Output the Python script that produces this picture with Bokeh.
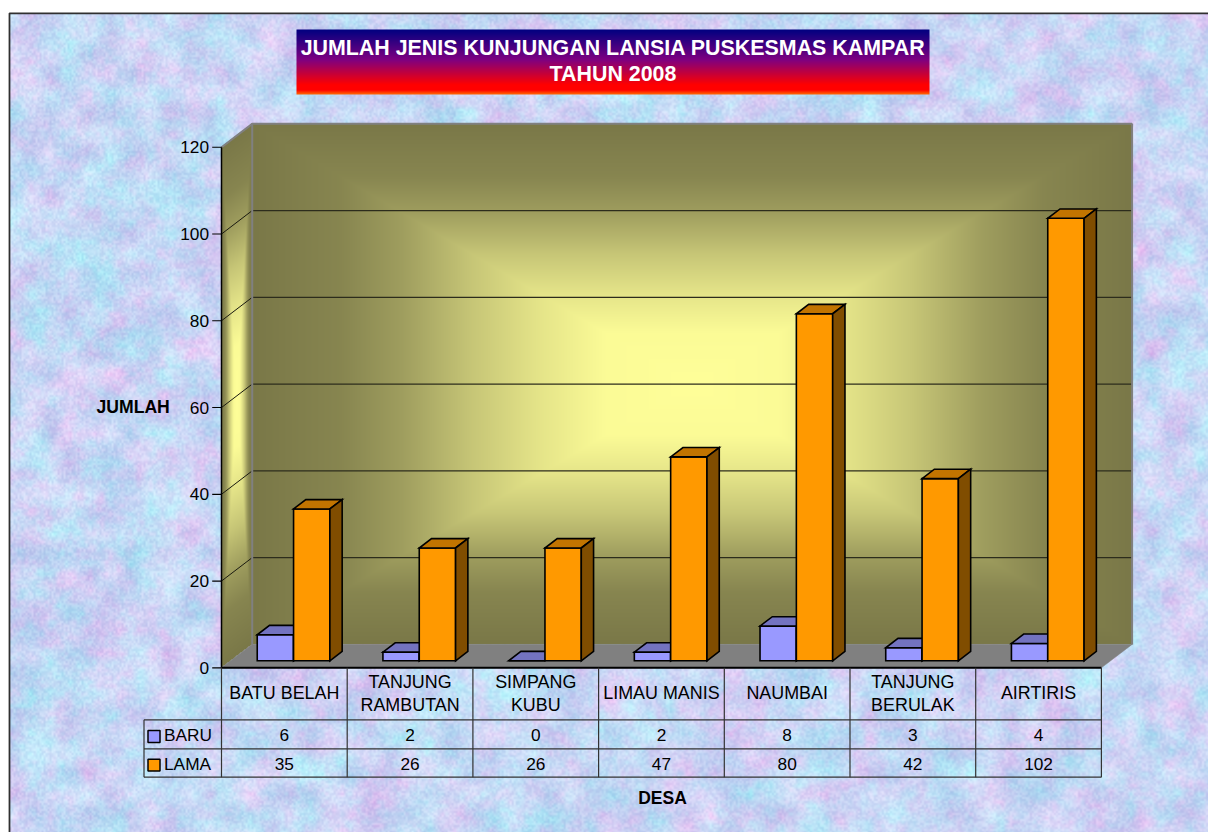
import numpy as np
from bokeh.core.properties import value
from bokeh.embed import file_html
from bokeh.models import Range1d
from bokeh.plotting import figure
from bokeh.resources import INLINE

# ---- chart content ----
TITLE_LINES = ["JUMLAH JENIS KUNJUNGAN LANSIA PUSKESMAS KAMPAR", "TAHUN 2008"]
CATEGORIES = [["BATU BELAH"], ["TANJUNG", "RAMBUTAN"], ["SIMPANG", "KUBU"], ["LIMAU MANIS"],
              ["NAUMBAI"], ["TANJUNG", "BERULAK"], ["AIRTIRIS"]]
BARU = [6, 2, 0, 2, 8, 3, 4]
LAMA = [35, 26, 26, 47, 80, 42, 102]
SERIES_NAMES = ["BARU", "LAMA"]
Y_TICKS = [0, 20, 40, 60, 80, 100, 120]
Y_LABEL = "JUMLAH"
X_LABEL = "DESA"

# ---- scale: one x unit is a category, one y unit is a count ----
W, H = 1208, 832
X0_PX, Y0_PX = 221.0, 667.3
CAT_PX, UNIT_PX = 125.7, 4.338
DEPTH_X_PX, DEPTH_Y_PX = 30.7, 23.4
FONT = value("Liberation Sans")


def X(px):
    return (px - X0_PX) / CAT_PX


def Y(py):
    return (Y0_PX - py) / UNIT_PX


DX = DEPTH_X_PX / CAT_PX
DY = DEPTH_Y_PX / UNIT_PX
N = len(CATEGORIES)
YMAX = Y_TICKS[-1]

p = figure(width=W, height=H, output_backend="svg", toolbar_location=None,
           x_range=Range1d(X(0), X(W)), y_range=Range1d(Y(H), Y(0)),
           x_axis_location=None, y_axis_location=None, min_border=0,
           outline_line_color=None, background_fill_color="white", border_fill_color="white")
p.grid.visible = False


def rgba(arr, alpha=None):
    a = np.clip(arr, 0, 255).astype(np.uint32)
    al = np.full(a.shape[:2], 255, dtype=np.uint32) if alpha is None else alpha.astype(np.uint32)
    return a[..., 0] | (a[..., 1] << 8) | (a[..., 2] << 16) | (al << 24)


def place_image(arr, left, top, right, bottom):
    """arr row 0 is the top row on screen."""
    p.image_rgba(image=[arr[::-1]], x=X(left), y=Y(bottom), dw=X(right) - X(left), dh=Y(top) - Y(bottom))


# ---- paper texture (decoration, deterministic) ----
def value_noise(h, w, cell, seed):
    gh, gw = h // cell + 3, w // cell + 3
    jj, ii = np.meshgrid(np.arange(gw), np.arange(gh))
    g = np.sin(ii * 12.9898 + jj * 78.233 + seed * 37.719) * 43758.5453
    g = g - np.floor(g)
    yy, xx = np.mgrid[0:h, 0:w] / cell
    iy, ix = yy.astype(int), xx.astype(int)
    fy, fx = yy - iy, xx - ix
    fy, fx = fy * fy * (3 - 2 * fy), fx * fx * (3 - 2 * fx)
    return (g[iy, ix] * (1 - fy) * (1 - fx) + g[iy + 1, ix] * fy * (1 - fx)
            + g[iy, ix + 1] * (1 - fy) * fx + g[iy + 1, ix + 1] * fy * fx)


bg_left, bg_top = 9.5, 13
bh, bw = int(H - bg_top), int(W - bg_left)
pink = 0.45 * value_noise(bh, bw, 26, 1) + 0.35 * value_noise(bh, bw, 10, 2) + 0.2 * value_noise(bh, bw, 4, 3)
cyan = 0.45 * value_noise(bh, bw, 30, 4) + 0.35 * value_noise(bh, bw, 11, 5) + 0.2 * value_noise(bh, bw, 4, 6)
grain = value_noise(bh, bw, 2, 7) - 0.5
light = value_noise(bh, bw, 20, 8) - 0.5
pk, cy = pink - 0.5, cyan - 0.5
tex = np.stack([
    200 + 55 * pk - 40 * cy + 26 * grain + 26 * light,
    214 - 38 * pk + 26 * cy + 24 * grain + 26 * light,
    245 - 6 * pk + 0 * cy + 12 * grain + 12 * light,
], axis=-1)
place_image(rgba(tex), bg_left, bg_top, W, H)

# frame of the sheet: only left and top are on the page
p.line([X(9), X(9), X(W)], [Y(H), Y(12.8), Y(12.8)], line_color="#303030", line_width=1.8)

# ---- title band ----
t_l, t_t, t_r, t_b = 296, 29, 929, 94
rows = t_b - t_t
pos = (np.arange(rows) + 0.5) / rows
stops = [0, 0.47, 0.85, 0.93, 1]
band = np.stack([np.interp(pos, stops, [0, 128, 255, 255, 255]),
                 np.interp(pos, stops, [0, 0, 0, 0, 110]),
                 np.interp(pos, stops, [128, 128, 0, 0, 0])], axis=-1)
band = np.repeat(band[:, None, :], t_r - t_l, axis=1)
place_image(rgba(band), t_l, t_t, t_r, t_b)
p.text(x=[X(612.5), X(612.5)], y=[Y(47), Y(73.5)], text=TITLE_LINES, text_color="white",
       text_font=FONT, text_font_style="bold", text_font_size="21.4px",
       text_align="center", text_baseline="middle")

# ---- walls ----
GLOW = np.array([255, 255, 153.0])
DARK = np.array([122, 120, 72.0])


def shade(t):
    m = np.interp(np.clip(t, 0, 1), [0, .2, .35, .5, .66, .8, 1], [0, .03, .2, .42, .72, .9, 1])[..., None]
    return GLOW * (1 - m) + DARK * m


back_l, back_r = X0_PX + DEPTH_X_PX, X0_PX + CAT_PX * N + DEPTH_X_PX
back_t, back_b = Y0_PX - UNIT_PX * YMAX - DEPTH_Y_PX, Y0_PX - DEPTH_Y_PX
il, ir, it, ib = int(back_l), int(back_r) + 1, int(back_t), int(back_b) + 1
yy, xx = np.mgrid[it:ib, il:ir] + 0.5
tb = np.maximum(np.abs(xx - (back_l + back_r) / 2) / ((back_r - back_l) / 2),
                np.abs(yy - (back_t + back_b) / 2) / ((back_b - back_t) / 2))
place_image(rgba(shade(tb)), il, it, ir, ib)

# side wall, a sheared copy of the same gradient
sl, sr, st, sb = int(X0_PX), int(back_l) + 1, int(back_t), int(Y0_PX) + 1
yy, xx = np.mgrid[st:sb, sl:sr] + 0.5
d = (xx - X0_PX) / DEPTH_X_PX
wall_y = yy + d * DEPTH_Y_PX
front_t = Y0_PX - UNIT_PX * YMAX
ts = np.maximum(np.abs(2 * d - 1), np.abs(wall_y - (front_t + Y0_PX) / 2) / ((Y0_PX - front_t) / 2))
mask = (d >= 0) & (d <= 1) & (wall_y >= front_t) & (wall_y <= Y0_PX)
place_image(rgba(shade(ts), mask * 255), sl, st, sr, sb)

# floor
p.patch([0, N, N + DX, DX], [0, 0, DY, DY], fill_color="#808080", line_color="#808080", line_width=0.5)

# grid lines across side wall and back wall
grid_vals = [v for v in Y_TICKS if 0 < v < YMAX]
p.multi_line(xs=[[0, DX] for _ in grid_vals], ys=[[v, v + DY] for v in grid_vals], line_color="#1a1a10", line_width=1)
p.multi_line(xs=[[DX, N + DX] for _ in grid_vals], ys=[[v + DY, v + DY] for v in grid_vals],
             line_color="#2c2c1c", line_width=1.2)
# wall edges
p.multi_line(xs=[[DX, DX], [N + DX, N + DX], [0, DX, N + DX]],
             ys=[[DY, YMAX + DY], [DY, YMAX + DY], [YMAX, YMAX + DY, YMAX + DY]],
             line_color="#808080", line_width=2)

# ---- bars ----
D0, D1 = 0.30, 0.70
BAR_W = 0.289
GAP = (1 - 2 * BAR_W) / 2
FILLS = {"BARU": ("#9999FF", "#7373C0", "#4D4D80"), "LAMA": ("#FF9900", "#C27400", "#804D00")}

xs, ys, fills = [], [], []
for i in range(N):
    for s, vals in enumerate((BARU, LAMA)):
        v = vals[i]
        front, top, side = FILLS[SERIES_NAMES[s]]
        a = i + GAP + s * BAR_W + D0 * DX
        b = a + BAR_W
        y0 = D0 * DY
        h = v + y0
        ddx, ddy = (D1 - D0) * DX, (D1 - D0) * DY
        xs += [[a, b, b, a], [a, b, b + ddx, a + ddx], [b, b + ddx, b + ddx, b]]
        ys += [[y0, y0, h, h], [h, h, h + ddy, h + ddy], [y0, y0 + ddy, h + ddy, h]]
        fills += [front, top, side]
p.patches(xs=xs, ys=ys, fill_color=fills, line_color="black", line_width=1.6, line_join="miter")

# ---- value axis ----
p.line([0, 0], [0, YMAX], line_color="black", line_width=1.5)
p.segment(x0=[X(211.7)] * len(Y_TICKS), x1=[0] * len(Y_TICKS), y0=Y_TICKS, y1=Y_TICKS,
          line_color="black", line_width=1.2)
p.text(x=[X(208.5)] * len(Y_TICKS), y=Y_TICKS, text=[str(v) for v in Y_TICKS], text_color="black",
       text_font=FONT, text_font_size="17.3px", text_align="right", text_baseline="middle")
p.text(x=[X(96)], y=[Y(406)], text=[Y_LABEL], text_color="black", text_font=FONT,
       text_font_style="bold", text_font_size="17.6px", text_align="left", text_baseline="middle")

# ---- data table ----
row_h = [Y(719.3), Y(748.3), Y(776.7)]
leg_l = X(143.5)
p.segment(x0=[leg_l] * 3, x1=[N] * 3, y0=row_h, y1=row_h, line_color="#333333", line_width=1.2)
p.line([0, N], [0, 0], line_color="black", line_width=2)
cuts = list(range(N + 1))
p.segment(x0=cuts, x1=cuts, y0=[row_h[2]] * len(cuts), y1=[0] * len(cuts), line_color="#333333", line_width=1.2)
p.segment(x0=[leg_l], x1=[leg_l], y0=[row_h[0]], y1=[row_h[2]], line_color="#333333", line_width=1.2)

cat_x, cat_y, cat_t = [], [], []
for i, lines in enumerate(CATEGORIES):
    centres = [Y(692.5)] if len(lines) == 1 else [Y(681.5), Y(704)]
    for c, t in zip(centres, lines):
        cat_x.append(i + 0.5)
        cat_y.append(c)
        cat_t.append(t)
p.text(x=cat_x, y=cat_y, text=cat_t, text_color="black", text_font=FONT, text_font_size="17.9px",
       text_align="center", text_baseline="middle")
val_x, val_y, val_t = [], [], []
for row, vals in ((Y(734.5), BARU), (Y(763), LAMA)):
    for i, v in enumerate(vals):
        val_x.append(i + 0.5)
        val_y.append(row)
        val_t.append(str(v))
p.text(x=val_x, y=val_y, text=val_t, text_color="black", text_font=FONT, text_font_size="17.3px",
       text_align="center", text_baseline="middle")

p.quad(left=[X(147.5)] * 2, right=[X(159.5)] * 2, top=[Y(730), Y(758.7)], bottom=[Y(742), Y(770.5)],
       fill_color=[FILLS[n][0] for n in SERIES_NAMES], line_color="black", line_width=1.5)
p.text(x=[X(163.5)] * 2, y=[Y(734.5), Y(763.5)], text=SERIES_NAMES, text_color="black", text_font=FONT,
       text_font_size="17.3px", text_align="left", text_baseline="middle")
p.text(x=[X(662)], y=[Y(797)], text=[X_LABEL], text_color="black", text_font=FONT, text_font_style="bold",
       text_font_size="17.5px", text_align="center", text_baseline="middle")

open("out.html", "w").write(file_html(p, INLINE))
